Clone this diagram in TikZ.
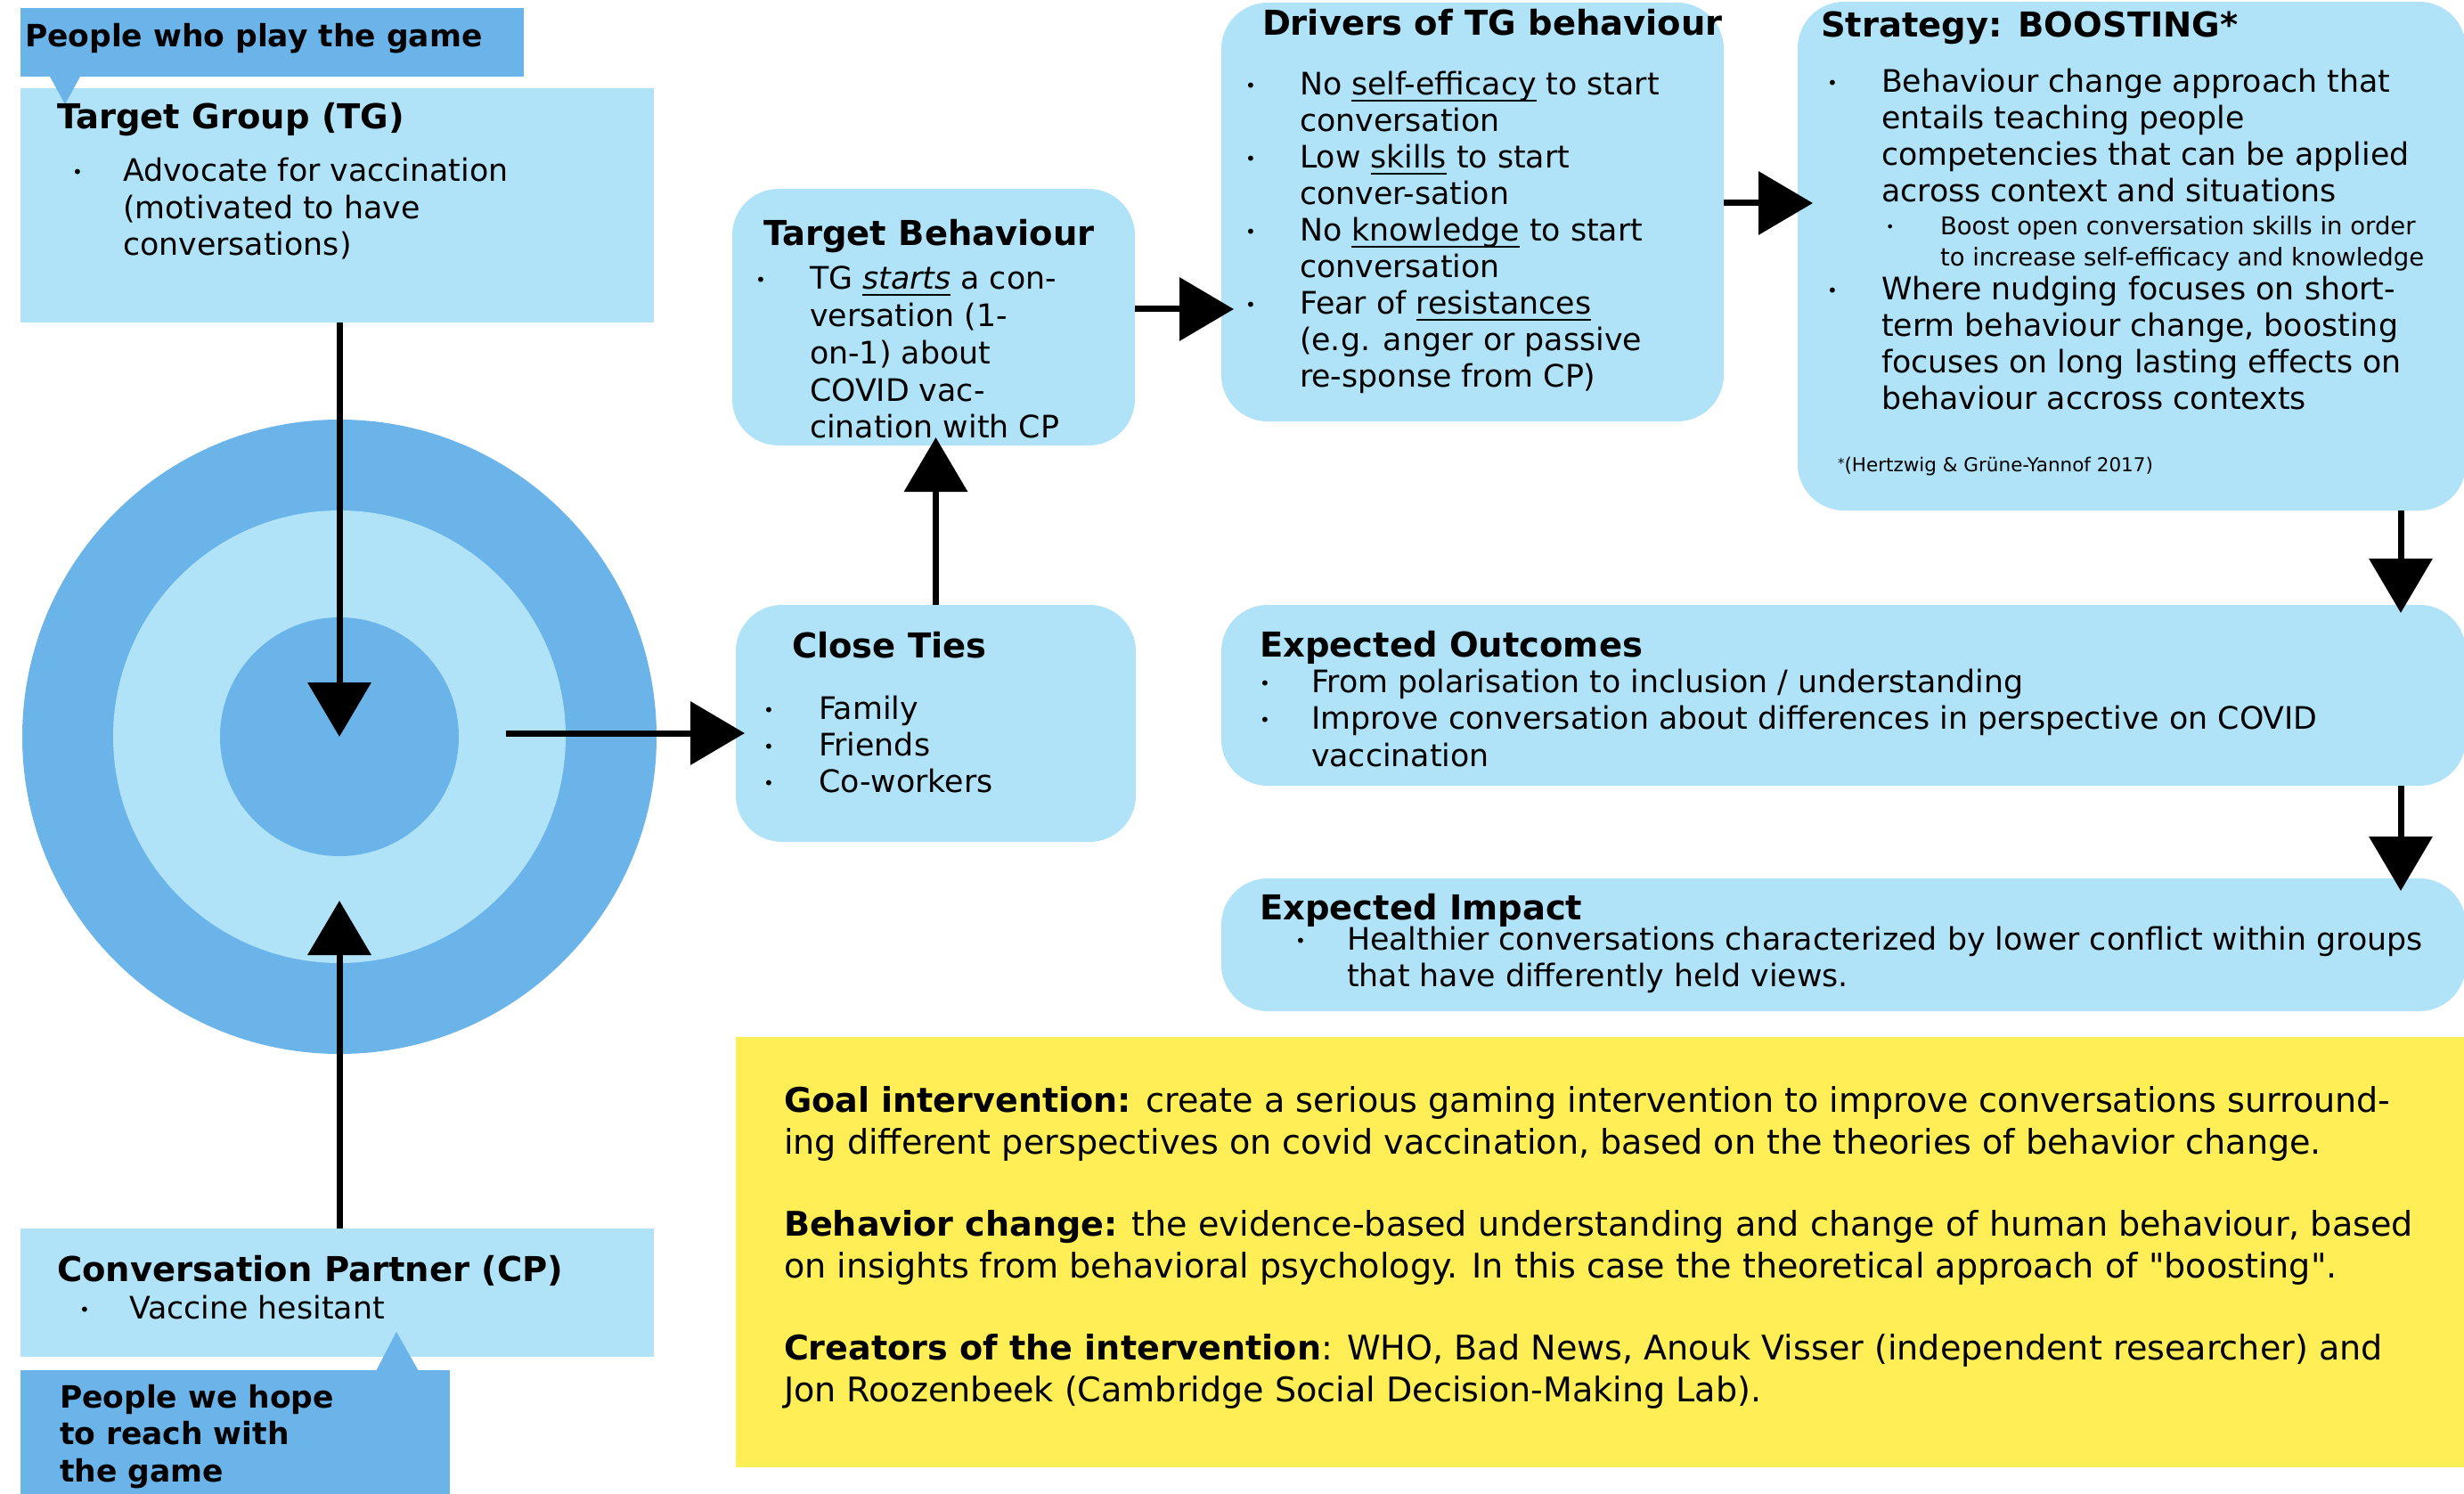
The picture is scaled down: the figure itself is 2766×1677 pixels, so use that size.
\documentclass[tikz,border=0pt]{standalone}
\usepackage{fontspec}
\setmainfont{DejaVu Sans}
\newfontfamily\plainquote{DejaVu Sans}[Ligatures=TeXOff]
\usetikzlibrary{arrows.meta}

\definecolor{lightblue}{HTML}{B0E2F8}
\definecolor{darkblue}{HTML}{6AB4EA}
\definecolor{notepad}{HTML}{FFEE55}

% underline at a fixed depth below the baseline
\newsavebox\ulbox
\newcommand\ulx[1]{\sbox\ulbox{#1}\rlap{\vrule width\wd\ulbox height -5pt depth 7.4pt}\usebox\ulbox}
% small list bullet and hanging indents
\newcommand\bul{\raisebox{3pt}{\fontsize{20}{20}\selectfont •}}
\newcommand\sbul{\raisebox{3pt}{\fontsize{16}{16}\selectfont •}}
\newcommand\bi[1][61pt]{\makebox[#1][l]{\bul}}
\newcommand\ci[1][61pt]{\hspace*{#1}}
\newcommand\sq{{\plainquote"}}
% text block: width, font size, line spacing, lines
\newcommand\blk[4]{\parbox[t]{#1pt}{\fontsize{#2}{#3}\selectfont\lineskiplimit=-100pt\relax\raggedright #4}}
\newcommand\ttl{\fontsize{38.5}{45}\selectfont\bfseries}
\newcommand\bodysize{34.8}

\tikzset{
  txt/.style={inner sep=0pt, outer sep=0pt, anchor=base west},
  lbox/.style={fill=lightblue, inner sep=0pt, outer sep=0pt, anchor=north west},
  rbox/.style={lbox, rounded corners=52pt},
  dbox/.style={fill=darkblue, inner sep=0pt, outer sep=0pt, anchor=north west},
  ybox/.style={fill=notepad, inner sep=0pt, outer sep=0pt, anchor=north west},
  ring/.style={circle, inner sep=0pt, outer sep=0pt},
  arr/.style={line width=7pt, -{Triangle[length=61pt,width=70pt]}},
}

\begin{document}
\begin{tikzpicture}[x=1pt, y=-1pt]
\useasboundingbox (0,0) rectangle (2766,1677);

% ---------- left column: groups and circle ----------
\node[lbox, minimum width=711pt, minimum height=263pt] (tg) at (23,99) {};
\node[dbox, minimum width=565pt, minimum height=77pt] (pp) at (23,9) {};
\fill[darkblue] (56,86) -- (90,86) -- (73,117) -- cycle;
\node[txt] (pptext) at (28,53) {\fontsize{34.5}{40}\selectfont\bfseries People who play the game};
\node[txt] (tgtitle) at (64,145) {\ttl Target Group (TG)};
\node[txt] (tgbody) at (81,204) {\blk{700}{\bodysize}{41.5}{\bi[57pt]Advocate for vaccination\\\ci[57pt](motivated to have\\\ci[57pt]conversations)}};

\node[ring, fill=darkblue, minimum size=712pt] (outer) at (381,827) {};
\node[ring, fill=lightblue, minimum size=508pt] (middle) at (381,827) {};
\node[ring, fill=darkblue, minimum size=268pt] (inner) at (381,827) {};

\node[lbox, minimum width=711pt, minimum height=144pt] (cp) at (23,1379) {};
\node[dbox, minimum width=482pt, minimum height=150pt] (ph) at (23,1538) {};
\fill[darkblue] (422,1539) -- (470,1539) -- (445,1495) -- cycle;
\node[txt] (cptitle) at (64,1438) {\ttl Conversation Partner (CP)};
\node[txt] (cpbody) at (89,1480) {\blk{600}{\bodysize}{41.5}{\bi[56pt]Vaccine hesitant}};
\node[txt] (phtext) at (67,1580) {\blk{450}{34.5}{41.5}{\bfseries People we hope\\to reach with\\the game}};

% ---------- middle column ----------
\node[rbox, minimum width=449pt, minimum height=266pt] (ct) at (826,679) {};
\node[txt] (cttitle) at (889,738) {\ttl Close Ties};
\node[txt] (ctbody) at (857,807) {\blk{420}{\bodysize}{41}{\bi[62pt]Family\\\bi[62pt]Friends\\\bi[62pt]Co-workers}};

\node[rbox, minimum width=452pt, minimum height=288pt] (tb) at (822,212) {};
\node[txt] (tbtitle) at (857,276) {\ttl Target Behaviour};
\node[txt] (tbbody) at (848,325) {\blk{420}{\bodysize}{41.7}{\bi TG \ulx{\textit{starts}} a con-\\\ci versation (1-\\\ci on-1) about\\\ci COVID vac-\\\ci cination with CP}};

\node[rbox, minimum width=564pt, minimum height=470pt] (dr) at (1371,3) {};
\node[txt] (drtitle) at (1417,40) {\ttl Drivers of TG behaviour};
\node[txt] (drbody) at (1398,107) {\blk{540}{\bodysize}{41}{\bi No \ulx{self-efficacy} to start\\\ci conversation\\\bi Low \ulx{skills} to start\\\ci conver-sation\\\bi No \ulx{knowledge} to start\\\ci conversation\\\bi Fear of \ulx{resistances}\\\ci (e.g. anger or passive\\\ci re-sponse from CP)}};

% ---------- right column ----------
\node[rbox, minimum width=750pt, minimum height=571pt] (st) at (2018,2) {};
\node[txt] (sttitle) at (2044,42) {\ttl Strategy: BOOSTING*};
\node[txt] (stbodya) at (2051,104) {\blk{720}{\bodysize}{41}{\bi Behaviour change approach that\\\ci entails teaching people\\\ci competencies that can be applied\\\ci across context and situations}};
\node[txt] (stsub) at (2117,264) {\blk{660}{27.5}{35}{\makebox[61pt][l]{\sbul}Boost open conversation skills in order\\\ci to increase self-efficacy and knowledge}};
\node[txt] (stbodyb) at (2051,337) {\blk{720}{\bodysize}{41}{\bi Where nudging focuses on short-\\\ci term behaviour change, boosting\\\ci focuses on long lasting effects on\\\ci behaviour accross contexts}};
\node[txt] (stref) at (2063,529) {\fontsize{21.5}{24}\selectfont\raisebox{4pt}{\fontsize{15}{15}\selectfont *}(Hertzwig \& Grüne-Yannof 2017)};

\node[rbox, minimum width=1397pt, minimum height=203pt] (oc) at (1371,679) {};
\node[txt] (octitle) at (1414,737) {\ttl Expected Outcomes};
\node[txt] (ocbody) at (1414,777) {\blk{1340}{\bodysize}{41.5}{\bi[58pt]From polarisation to inclusion / understanding\\\bi[58pt]Improve conversation about differences in perspective on COVID\\\ci[58pt]vaccination}};

\node[rbox, minimum width=1397pt, minimum height=149pt] (im) at (1371,986) {};
\node[txt] (imtitle) at (1414,1032) {\ttl Expected Impact};
\node[txt] (imbody) at (1454,1066) {\blk{1300}{\bodysize}{41}{\bi[58pt]Healthier conversations characterized by lower conflict within groups\\\ci[58pt]that have differently held views.}};

% ---------- summary note ----------
\node[ybox, minimum width=1945pt, minimum height=483pt] (note) at (826,1164) {};
\node[txt] (notea) at (880,1248) {\blk{1880}{38.1}{47}{\textbf{Goal intervention:} create a serious gaming intervention to improve conversations surround-\\ing different perspectives on covid vaccination, based on the theories of behavior change.}};
\node[txt] (noteb) at (880,1387) {\blk{1880}{38.1}{47}{\textbf{Behavior change:} the evidence-based understanding and change of human behaviour, based\\on insights from behavioral psychology. In this case the theoretical approach of \sq boosting\sq.}};
\node[txt] (notec) at (880,1526) {\blk{1880}{38.1}{47}{\textbf{Creators of the intervention}: WHO, Bad News, Anouk Visser (independent researcher) and\\Jon Roozenbeek (Cambridge Social Decision-Making Lab).}};

% ---------- connectors ----------
\coordinate (cptip) at (381,1011);
\coordinate (rstart) at (568,823);
\coordinate (a5) at (1274,347);
\coordinate (a6) at (1935,228);
\coordinate (a7) at (2695,573);
\coordinate (a8) at (2695,882);

\draw[arr] (inner.center |- tg.south) -- (inner.center);
\draw[arr] (cptip |- cp.north) -- (cptip);
\draw[arr, shorten >=-10pt] (rstart) -- (rstart -| ct.west);
\draw[arr, shorten >=-9pt] (ct.north) -- (ct.north |- tb.south);
\draw[arr, shorten >=-14pt] (a5) -- (a5 -| dr.west);
\draw[arr, shorten >=-17pt] (a6) -- (a6 -| st.west);
\draw[arr, shorten >=-9pt] (a7) -- (a7 |- oc.north);
\draw[arr, shorten >=-14pt] (a8) -- (a8 |- im.north);
\end{tikzpicture}
\end{document}
